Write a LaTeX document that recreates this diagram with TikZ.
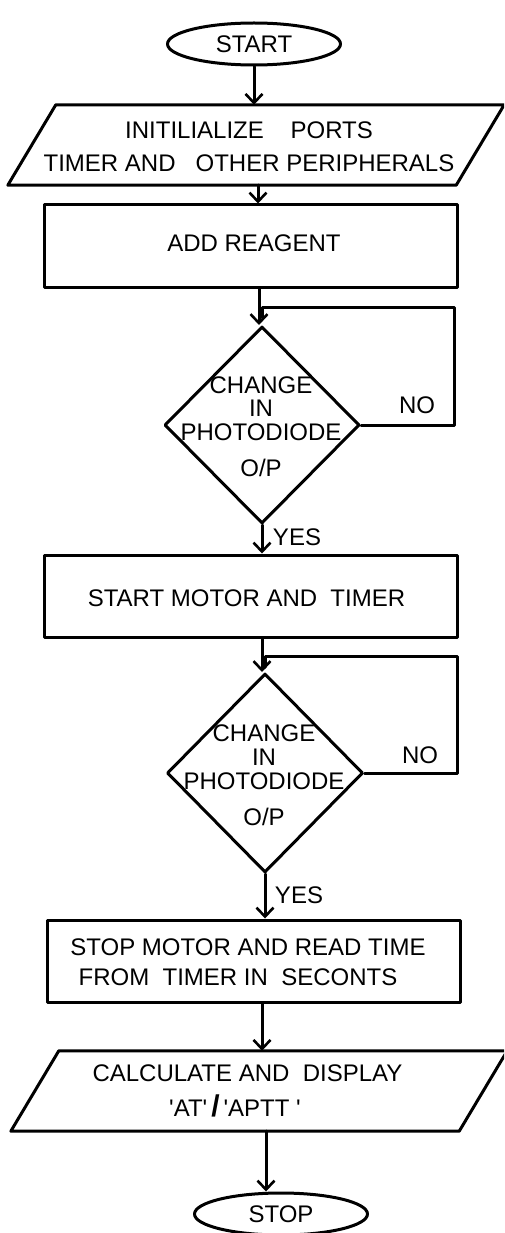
\documentclass[tikz,border=0pt]{standalone}
\usepackage{fontspec}
\setmainfont{Liberation Sans}
\usetikzlibrary{shapes.geometric,arrows.meta}

\newcommand{\sq}{\textquotesingle}

\tikzset{
  line/.style={line width=3pt, line cap=round, line join=round},
  arr/.style={line, -{Straight Barb[length=9pt,width=17pt,line width=2.6pt]}},
  txt/.style={font=\fontsize{24}{33}\selectfont, inner sep=0pt, align=center},
  lbl/.style={font=\fontsize{24}{28}\selectfont, inner sep=0pt},
  terminal/.style={line, draw, ellipse, inner sep=0pt, minimum width=173pt, minimum height=42pt,
                   font=\fontsize{24}{28}\selectfont},
  process/.style={line, draw, rectangle, inner sep=0pt, minimum width=413pt, minimum height=82pt},
  frame/.style={rectangle, inner sep=0pt, minimum width=448pt, minimum height=80pt},
  decision/.style={line, draw, diamond, inner sep=0pt},
}

\begin{document}
\begin{tikzpicture}[x=1pt, y=-1pt]
\useasboundingbox (0,0) rectangle (504,1233);
\fill[white] (0,0) rectangle (504,1233);
\clip (0,0) rectangle (504,1233);

% terminals
\node[terminal] (start) at (254,44) {START};
\node[terminal] (stop) at (281,1214) {STOP};

% input / output blocks (parallelograms drawn around an invisible frame)
\node[frame] (init) at (256,145) {};
\draw[line] ([xshift=-24pt]init.south west) -- ([xshift=24pt]init.north west)
  -- ([xshift=24pt]init.north east) -- ([xshift=-24pt]init.south east) -- cycle;
\node[txt] (init-t) at (249,146.5) {INITILIALIZE~~~~PORTS\\TIMER AND~~~OTHER PERIPHERALS};

\node[frame] (calc) at (259,1091) {};
\draw[line] ([xshift=-24pt]calc.south west) -- ([xshift=24pt]calc.north west)
  -- ([xshift=24pt]calc.north east) -- ([xshift=-24pt]calc.south east) -- cycle;
\node[txt, font=\fontsize{24}{35}\selectfont] (calc-t) at (247.5,1090.5)
  {CALCULATE AND~~DISPLAY\\\sq AT\sq\,{\fontsize{30}{30}\selectfont\bfseries/}\,\sq APTT \sq\hspace*{25pt}};

% process boxes
\node[process] (add) at (250.5,246) {};
\node[txt] (add-t) at (254,243) {ADD REAGENT};

\node[process] (motor) at (250.5,596) {};
\node[txt] (motor-t) at (246.5,598) {START MOTOR AND~~TIMER};

\node[process] (read) at (253.5,961) {};
\node[txt, font=\fontsize{24}{30}\selectfont] (read-t) at (248,962)
  {STOP MOTOR AND READ TIME\\FROM~~TIMER IN~~SECONTS\hspace*{20pt}};

% decisions
\node[decision, minimum width=195pt, minimum height=197pt] (d1) at (262,425) {};
\node[txt, font=\fontsize{24}{23.5}\selectfont] (d1-t) at (261,426.5)
  {CHANGE\\IN\\PHOTODIODE\\[12.5pt]O/P};

\node[decision, minimum width=196pt, minimum height=199pt] (d2) at (265,773) {};
\node[txt, font=\fontsize{24}{24}\selectfont] (d2-t) at (264,775)
  {CHANGE\\IN\\PHOTODIODE\\[12pt]O/P};

% branch labels
\node[lbl] (no1) at (417,405) {NO};
\node[lbl] (no2) at (420,755) {NO};
\node[lbl] (yes1) at (297,537) {YES};
\node[lbl] (yes2) at (299,895) {YES};

% main flow
\draw[arr] (start.south) -- (start.south |- init.north);
\draw[arr] ([xshift=2pt]init.south) -- ([xshift=2pt]init.south |- add.north);
\draw[arr] ([xshift=-3pt]d1.north |- add.south) -- ([xshift=-3pt]d1.north);
\draw[arr] (d1.south) -- (d1.south |- motor.north);
\draw[arr] ([xshift=-3pt]d2.north |- motor.south) -- ([xshift=-3pt]d2.north);
\draw[arr] (d2.south) -- (d2.south |- read.north);
\draw[arr] ([xshift=-3pt]d2.south |- read.south) -- ([xshift=-3pt]d2.south |- calc.north);
\draw[arr] ([xshift=-15pt]stop.north |- calc.south) -- ([xshift=-15pt]stop.north);

% "NO" loops back to the top of each decision
\coordinate (loop1) at (454,307);
\coordinate (join1) at (262,307);
\coordinate (join1e) at (262,318);
\draw[line] (d1.east) -| (loop1) -- (join1) -- (join1e);

\coordinate (loop2) at (457,656);
\coordinate (join2) at (265,656);
\coordinate (join2e) at (265,667);
\draw[line] (d2.east) -| (loop2) -- (join2) -- (join2e);
\end{tikzpicture}
\end{document}
